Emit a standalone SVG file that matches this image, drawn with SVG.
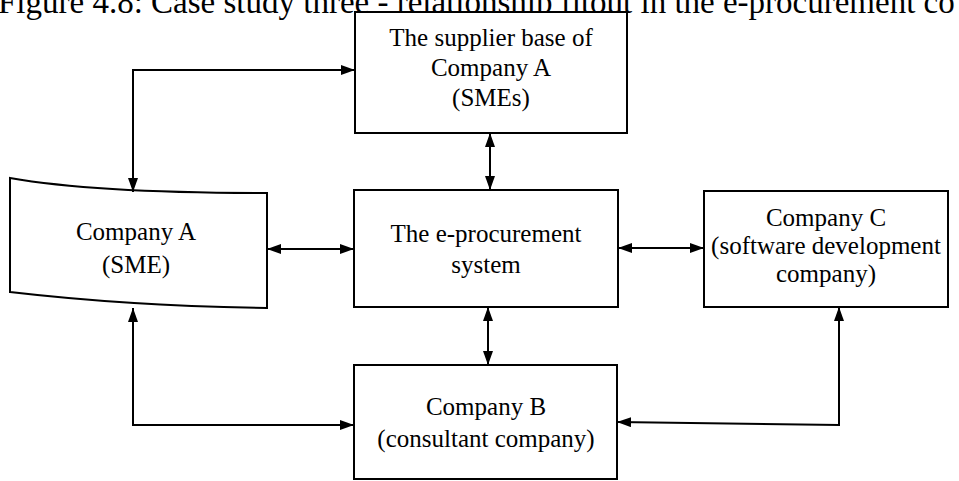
<svg xmlns="http://www.w3.org/2000/svg" width="959" height="481" viewBox="0 0 959 481">
  <style>
    .box { fill: #ffffff; stroke: #000000; stroke-width: 2; }
    .lbl { font-family: "Liberation Serif", "Times New Roman", serif; font-size: 25px; fill: #000000; text-anchor: middle; }
    .cap { font-family: "Liberation Serif", "Times New Roman", serif; font-size: 33px; fill: #000000; }
    .wire { fill: none; stroke: #000000; stroke-width: 2; }
  </style>
  <defs>
    <marker id="arrow" viewBox="0 0 14 10" refX="14" refY="5" markerWidth="14" markerHeight="10" markerUnits="userSpaceOnUse" orient="auto-start-reverse">
      <path d="M0,0 L14,5 L0,10 z" fill="#000000"/>
    </marker>
  </defs>
  <rect width="959" height="481" fill="#ffffff"/>

  <!-- caption line, running off the top edge -->
  <text class="cap" x="-2" y="13">Figure 4.8: Case study three - relationship fitout in the e-procurement co</text>

  <g id="supplier-base">
    <rect class="box" x="355" y="12" width="272" height="121"/>
    <text class="lbl" x="491" y="46">The supplier base of</text>
    <text class="lbl" x="491" y="76">Company A</text>
    <text class="lbl" x="491" y="106">(SMEs)</text>
  </g>

  <g id="company-a">
    <path class="box" d="M10,178 Q95,193 267,193 L267,308 Q130,306 10,292 Z"/>
    <text class="lbl" x="136" y="240">Company A</text>
    <text class="lbl" x="136" y="273">(SME)</text>
  </g>

  <g id="e-procurement">
    <rect class="box" x="354" y="190" width="264" height="117"/>
    <text class="lbl" x="486" y="242">The e-procurement</text>
    <text class="lbl" x="486" y="273">system</text>
  </g>

  <g id="company-c">
    <rect class="box" x="704" y="191" width="244" height="116"/>
    <text class="lbl" x="826" y="226">Company C</text>
    <text class="lbl" x="826" y="254">(software development</text>
    <text class="lbl" x="826" y="282">company)</text>
  </g>

  <g id="company-b">
    <rect class="box" x="354" y="365" width="263" height="114"/>
    <text class="lbl" x="486" y="415">Company B</text>
    <text class="lbl" x="486" y="447">(consultant company)</text>
  </g>

  <g id="connectors">
    <path class="wire" d="M133,192 L133,70 L355,70" marker-start="url(#arrow)" marker-end="url(#arrow)"/>
    <path class="wire" d="M490,133 L490,190" marker-start="url(#arrow)" marker-end="url(#arrow)"/>
    <path class="wire" d="M267,249 L354,249" marker-start="url(#arrow)" marker-end="url(#arrow)"/>
    <path class="wire" d="M618,248 L704,248" marker-start="url(#arrow)" marker-end="url(#arrow)"/>
    <path class="wire" d="M488,307 L488,365" marker-start="url(#arrow)" marker-end="url(#arrow)"/>
    <path class="wire" d="M133,308 L133,425 L354,425" marker-start="url(#arrow)" marker-end="url(#arrow)"/>
    <path class="wire" d="M839,307 L839,425 L617,422" marker-start="url(#arrow)" marker-end="url(#arrow)"/>
  </g>
</svg>
